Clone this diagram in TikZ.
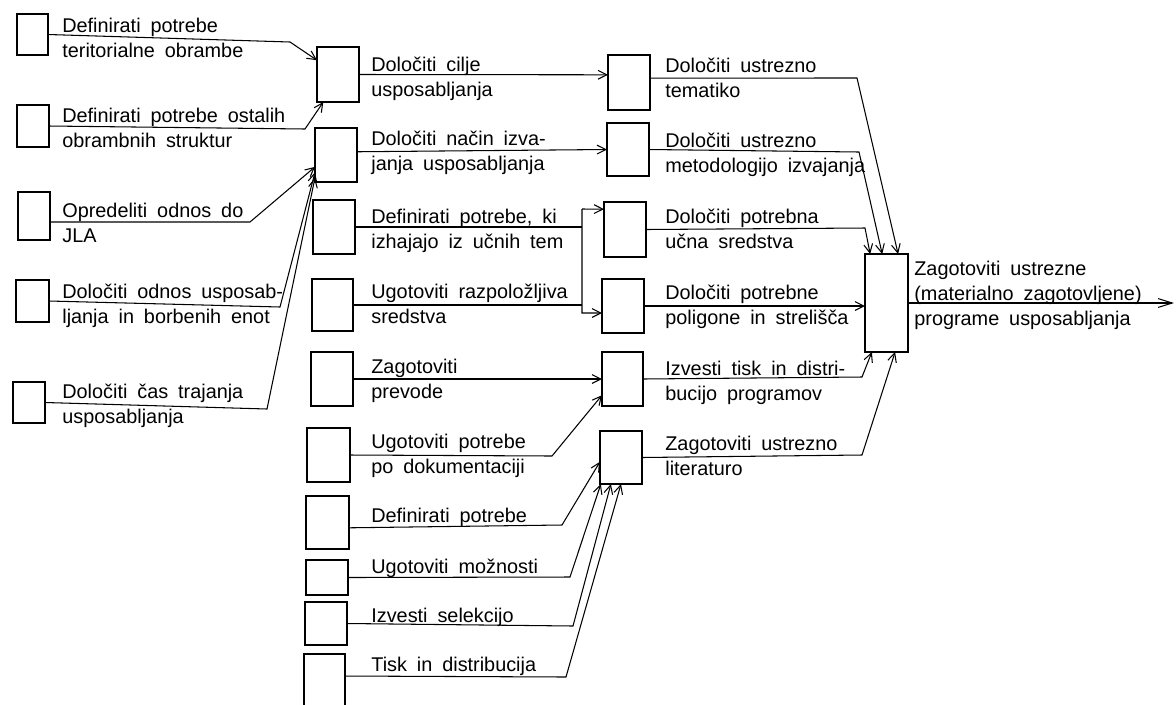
\documentclass[tikz,border=0pt]{standalone}
\usepackage{fontspec}
\setmainfont{Liberation Sans}[WordSpace=1.8]
\usepackage{tikz}
\usetikzlibrary{calc,arrows.meta}
\def\blok(#1)(#2,#3)(#4,#5){\node[blok, minimum width={(#4-#2)*0.02cm}, minimum height={(#5-#3)*0.02cm}] (#1) at ({(#2+#4)/2},{(#3+#5)/2}) {};}
\tikzset{
	blok/.style={draw, rectangle, line width=0.8pt, inner sep=0pt, outer sep=0pt},
	tekst/.style={anchor=north west, inner sep=0pt, align=left, font=\fontsize{11.3}{14.2}\selectfont},
	vez/.style={line width=0.6pt},
	puscica/.style={vez, -{Straight Barb[length=5pt, width=5pt]}},
	dolga/.style={vez, -{Straight Barb[length=8pt, width=5pt]}}
}

\begin{document}
\begin{tikzpicture}[x=0.02cm, y=-0.02cm]
			%%%%% START %%%%%
			
			\useasboundingbox[fill=white] (0,0) rectangle (1176,704);
			
			\blok(l1)(17,14)(48,55)
			\blok(l2)(17,105)(49,147)
			\blok(l3)(18,192)(50,240)
			\blok(l4)(16,280)(49,322)
			\blok(l5)(13,382)(45,423)
			
			\node[tekst] (tl1) at (62,18) {Definirati potrebe\\teritorialne obrambe};
			\node[tekst] (tl2) at (62,108) {Definirati potrebe ostalih\\obrambnih struktur};
			\node[tekst] (tl3) at (62,203) {Opredeliti odnos do\\JLA};
			\node[tekst] (tl4) at (62,284) {Določiti odnos usposab-\\ljanja in borbenih enot};
			\node[tekst] (tl5) at (62,384) {Določiti čas trajanja\\usposabljanja};
			
			\blok(c1)(317,47)(359,102)
			\blok(c2)(315,128)(357,182)
			\blok(c3)(313,200)(355,254)
			\blok(c4)(312,279)(353,331)
			\blok(c5)(311,352)(353,406)
			\blok(c6)(307,428)(350,482)
			\blok(c7)(306,496)(349,549)
			\blok(c8)(306,560)(348,595)
			\blok(c9)(305,602)(347,645)
			\blok(c10)(304,654)(345,740)
			
			\node[tekst] (tc1) at (371,57) {Določiti cilje\\usposabljanja};
			\node[tekst] (tc2) at (371,131) {Določiti način izva-\\janja usposabljanja};
			\node[tekst] (tc3) at (371,209) {Definirati potrebe, ki\\izhajajo iz učnih tem};
			\node[tekst] (tc4) at (371,284) {Ugotoviti razpoložljiva\\sredstva};
			\node[tekst] (tc5) at (371,359) {Zagotoviti\\prevode};
			\node[tekst] (tc6) at (371,434) {Ugotoviti potrebe\\po dokumentaciji};
			\node[tekst] (tc7) at (371,508) {Definirati potrebe};
			\node[tekst] (tc8) at (371,559) {Ugotoviti možnosti};
			\node[tekst] (tc9) at (371,608) {Izvesti selekcijo};
			\node[tekst] (tc10) at (371,657) {Tisk in distribucija};
			
			\blok(r1)(608,55)(650,110)
			\blok(r2)(607,123)(649,176)
			\blok(r3)(604,202)(646,257)
			\blok(r4)(602,279)(644,333)
			\blok(r5)(602,352)(643,406)
			\blok(r6)(600,431)(642,484)
			
			\node[tekst] (tr1) at (665,58) {Določiti ustrezno\\tematiko};
			\node[tekst] (tr2) at (665,133) {Določiti ustrezno\\metodologijo izvajanja};
			\node[tekst] (tr3) at (665,209) {Določiti potrebna\\učna sredstva};
			\node[tekst] (tr4) at (665,285) {Določiti potrebne\\poligone in strelišča};
			\node[tekst] (tr5) at (665,361) {Izvesti tisk in distri-\\bucijo programov};
			\node[tekst] (tr6) at (665,436) {Zagotoviti ustrezno\\literaturo};
			
			\blok(z)(865,254)(908,352)
			\node[tekst] (tz) at (914,261) {Zagotoviti ustrezne\\(materialno zagotovljene)\\programe usposabljanja};
			
			\coordinate (v1) at (582,209);
			\coordinate (v2) at (582,313);
			\coordinate (izlaz) at (1174,303);
			
			\draw[puscica] (l1.east) -- (290,42) -- ($(c1.north west)!0.24!(c1.south west)$);
			\draw[puscica] (l2.east) -- (305,129) -- ($(c1.south west)!0.15!(c1.south east)$);
			\draw[puscica] ($(l3.north east)!0.625!(l3.south east)$) -- (250,222) -- ($(c2.north west)!0.72!(c2.south west)$);
			\draw[puscica] (l4.east) -- (280,307) -- ($(c2.north west)!0.82!(c2.south west)$);
			\draw[puscica] (l5.east) -- (267,409) -- ($(c2.north west)!0.92!(c2.south west)$);
			
			\draw[puscica] (c1.east) -- ($(r1.north west)!0.36!(r1.south west)$);
			\draw[puscica] ($(c2.north east)!0.44!(c2.south east)$) -- (r2.west);
			\draw[vez] (c3.east) -- (c3.east -| v1);
			\draw[vez] (c4.east) -- (c4.east -| v1);
			\draw[puscica] (v1) -- (v2) -- ($(r4.north west)!0.63!(r4.south west)$);
			\draw[puscica] (v1) -- ($(r3.north west)!0.13!(r3.south west)$);
			\draw[puscica] (c5.east) -- (c5.east -| r5.west);
			\draw[puscica] (c6.east) -- (552,456) -- ($(r5.north west)!0.8!(r5.south west)$);
			\draw[puscica] ($(c7.north east)!0.6!(c7.south east)$) -- (562,525) -- ($(r6.north west)!0.58!(r6.south west)$);
			\draw[puscica] (c8.east) -- (570,577) -- ($(r6.south west)!0.02!(r6.south east)$);
			\draw[puscica] (c9.east) -- (573,626) -- ($(r6.south west)!0.26!(r6.south east)$);
			\draw[puscica] ($(c10.north east)!0.256!(c10.south east)$) -- (566,677) -- ($(r6.south west)!0.5!(r6.south east)$);
			
			\draw[puscica] ($(r1.north east)!0.42!(r1.south east)$) -- (857,78) -- ($(z.north west)!0.77!(z.north east)$);
			\draw[puscica] (r2.east) -- (859,152) -- ($(z.north west)!0.4!(z.north east)$);
			\draw[puscica] (r3.east) -- (865,228) -- ($(z.north west)!0.12!(z.north east)$);
			\draw[puscica] (r4.east) -- (r4.east -| z.west);
			\draw[puscica] (r5.east) -- (862,377) -- ($(z.south west)!0.16!(z.south east)$);
			\draw[puscica] (r6.east) -- (862,455) -- ($(z.south west)!0.7!(z.south east)$);
			
			\draw[dolga] (z.east) -- (izlaz);
			
			%%%%% END %%%%%
\end{tikzpicture}
\end{document}
